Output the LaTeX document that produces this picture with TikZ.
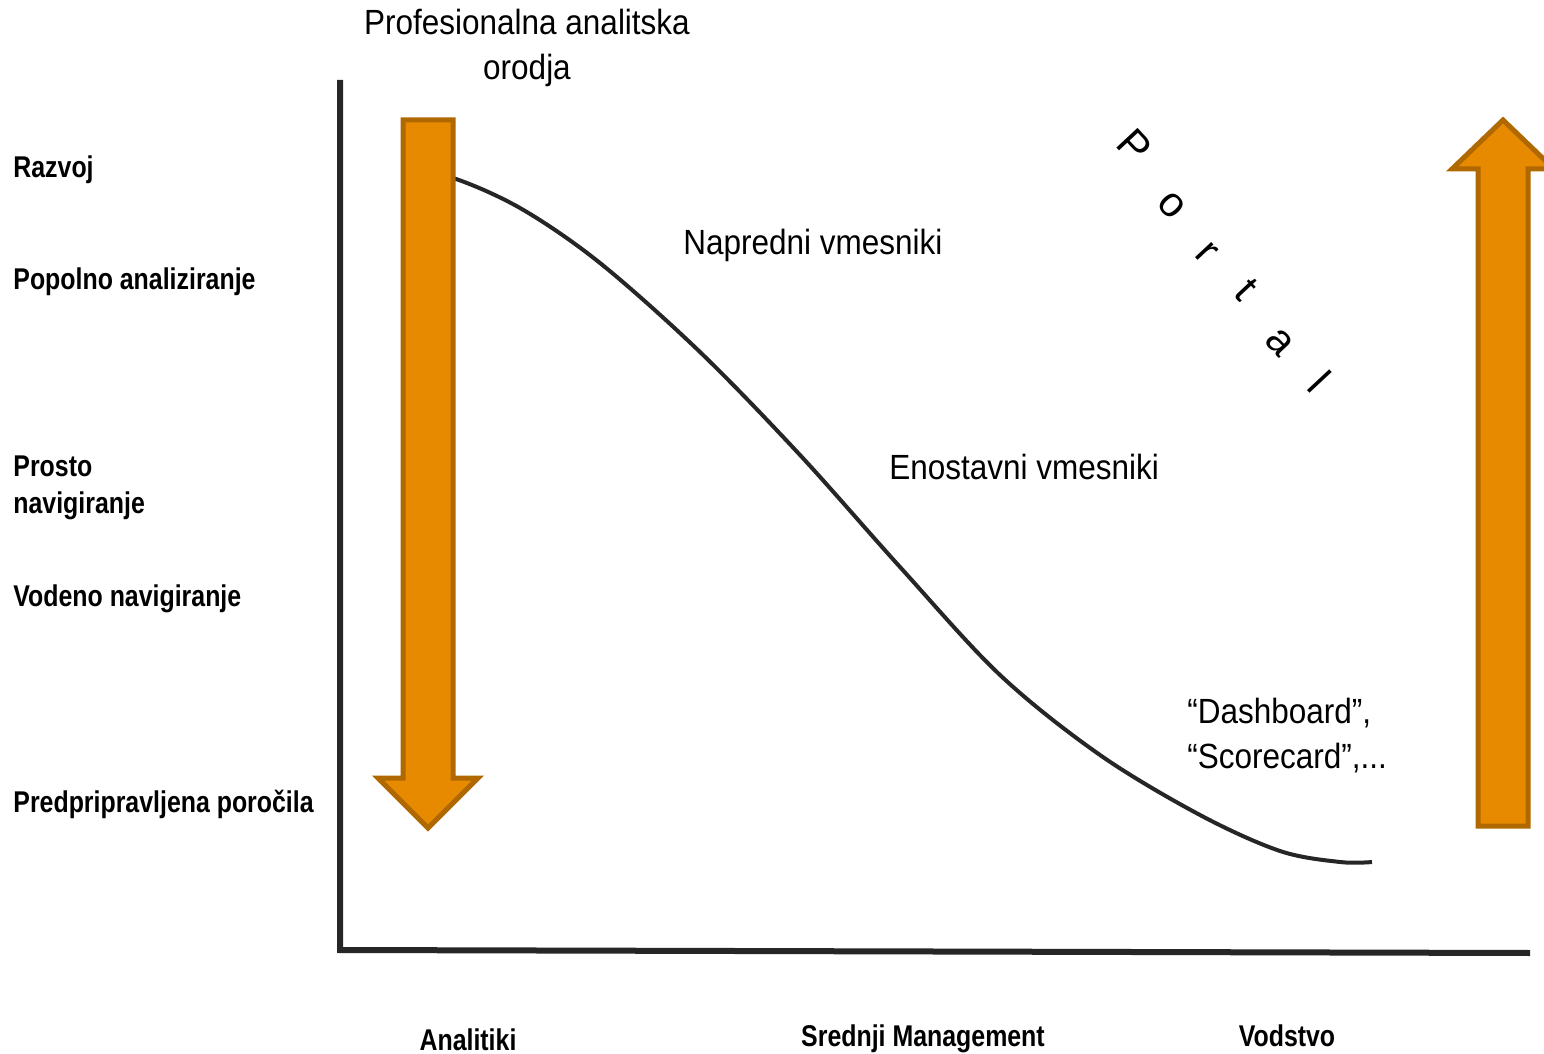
\documentclass[tikz,border=0pt]{standalone}
\usepackage{fontspec}
\setmainfont[FakeStretch=0.90]{Liberation Sans}
\newfontfamily\levelfont[FakeStretch=0.83]{Liberation Sans}
\newfontfamily\portalfont{Liberation Sans}
\usetikzlibrary{positioning}
\definecolor{axisgray}{HTML}{262626}
\definecolor{arrowfill}{HTML}{E88A00}
\definecolor{arrowedge}{HTML}{B06800}

\begin{document}
\begin{tikzpicture}[x=0.5pt,y=-0.5pt,
    level/.style={font=\levelfont\bfseries\fontsize{15}{16}\selectfont, anchor=base west,
        inner sep=0pt},
    tool/.style={font=\fontsize{17.5}{23}\selectfont, anchor=base west, inner sep=0pt},
    user/.style={font=\levelfont\bfseries\fontsize{15}{16}\selectfont, anchor=base,
        inner sep=0pt},
    bigarrow/.style={fill=arrowfill,draw=arrowedge,line width=2.5pt,miter limit=10},
    every node/.style={text=black}]
    \useasboundingbox (0,0) rectangle (1544,1054);
    \clip (0,0) rectangle (1544,1054);

    % axes
    \draw[axisgray,line width=3pt] (340,80) coordinate (ytop) -- (340,950) coordinate (orig)
        -- (1530,953) coordinate (xend);

    % curve
    \draw[axisgray,line width=2pt] plot[smooth,tension=0.55] coordinates
        {(405,172) (450,177) (520,208) (600,263) (700,352) (800,455) (900,567)
         (1000,675) (1100,755) (1200,815) (1280,851) (1340,862) (1372,862)};

    % arrows
    \draw[bigarrow] (403,120) -- (453,120) -- (453,778) -- (478,778) -- (428,828)
        -- (378,778) -- (403,778) -- cycle;
    \draw[bigarrow] (1478,826) -- (1478,169) -- (1452,169) -- (1503,120) -- (1554,169)
        -- (1528,169) -- (1528,826) -- cycle;

    % levels
    \node[level] (razvoj) at (13,177) {Razvoj};
    \node[level] (popolno) at (13,289) {Popolno analiziranje};
    \node[level] (prosto) at (13,476) {Prosto};
    \node[level] (prosto2) at (13,513) {navigiranje};
    \node[level] (vodeno) at (13,606) {Vodeno navigiranje};
    \node[level] (predpr) at (13,812) {Predpripravljena poročila};

    % tools
    \node[tool,anchor=base] (prof) at (527,35) {Profesionalna analitska};
    \node[tool,anchor=base] (prof2) at (527,80) {orodja};
    \node[tool] (napredni) at (683,255) {Napredni vmesniki};
    \node[tool] (enostavni) at (889,479) {Enostavni vmesniki};
    \node[tool] (dash) at (1187,723) {“Dashboard”,};
    \node[tool] (score) at (1187,768) {“Scorecard”,...};

    % portal
    \foreach \ch/\px/\py [count=\i] in {P/1135/146,o/1172/205,r/1207/253,t/1246/290,
        a/1280/342,l/1320/382}
        \node[font=\portalfont\fontsize{21}{21}\selectfont,rotate=-47,inner sep=0pt]
            (portal\i) at (\px,\py) {\ch};

    % users
    \node[user] (analitiki) at (468,1050) {Analitiki};
    \node[user] (srednji) at (923,1046) {Srednji Management};
    \node[user] (vodstvo) at (1287,1046) {Vodstvo};

\end{tikzpicture}
\end{document}
